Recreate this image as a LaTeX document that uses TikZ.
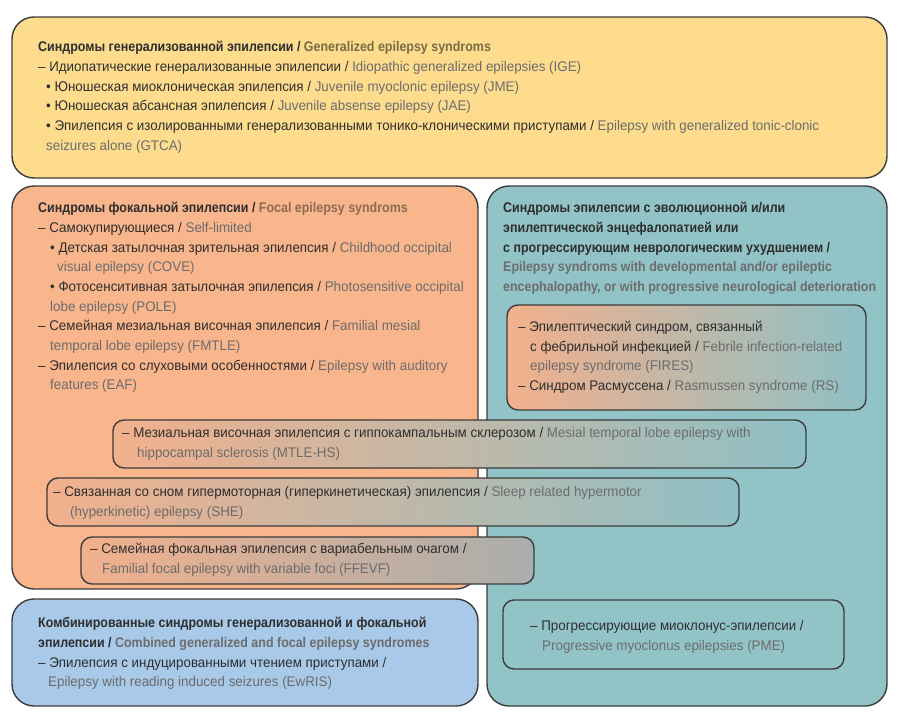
\documentclass[tikz,border=0pt]{standalone}
\usepackage{fontspec}
\setmainfont{Liberation Sans}[UprightFeatures={FakeStretch=0.955},BoldFeatures={FakeStretch=0.89}]
\definecolor{yfill}{HTML}{FDDC8E}
\definecolor{ofill}{HTML}{F9B68D}
\definecolor{tfill}{HTML}{92C4C7}
\definecolor{bfill}{HTML}{A9C9E9}
\definecolor{bord}{HTML}{3C3C3C}
\definecolor{rutext}{HTML}{2E2E2E}
\definecolor{enY}{HTML}{7B6B45}
\definecolor{enO}{HTML}{8E6B57}
\definecolor{enT}{HTML}{506B72}
\definecolor{enTb}{HTML}{6A7F82}
\definecolor{enB}{HTML}{5F6F80}
\definecolor{enG}{HTML}{6C6C6C}
\definecolor{enF}{HTML}{404040}
\definecolor{barO}{HTML}{F2B08C}
\definecolor{barT}{HTML}{8FC0C5}
\definecolor{barM}{HTML}{A9AEAC}
\colorlet{encol}{enG}
\newcommand\en[1]{{\color{encol}#1}}
\begin{document}
\begin{tikzpicture}[x=1pt,y=-1pt,
  bigbox/.style={draw=bord,line width=1.4pt,rounded corners=22pt},
  barbox/.style={draw=bord,line width=1.4pt,rounded corners=11pt},
  txt/.style={anchor=north west,inner sep=0pt,align=left,text=rutext,
    font=\fontsize{14}{19.7}\selectfont}]
\useasboundingbox (0,0) rectangle (900,723);
\fill[white] (0,0) rectangle (900,723);
% main boxes
\draw[bigbox,fill=yfill] (12,17) rectangle (887,178);
\draw[bigbox,fill=ofill] (12,186) rectangle (478,589);
\draw[bigbox,fill=tfill] (487,186) rectangle (887,706);
\draw[bigbox,fill=bfill] (12,599) rectangle (478,706);
% inner boxes
\draw[barbox,left color=barO,right color=barT] (507,305) rectangle (866,410);
\draw[barbox,left color=barO,right color=barT] (113,420) rectangle (806,468);
\draw[barbox,left color=barO,right color=barT] (47,478) rectangle (739,526);
\draw[barbox,left color=barO,right color=barM] (81,537) rectangle (534,584);
\draw[barbox,fill=tfill] (503,600) rectangle (844,669);
% texts
\node[txt] (gen) at (38,41) {\colorlet{encol}{enY}%
\textbf{Синдромы генерализованной эпилепсии / \en{Generalized epilepsy syndroms}}\\
– Идиопатические генерализованные эпилепсии / \en{Idiopathic generalized epilepsies (IGE)}\\
\hspace*{8pt}• Юношеская миоклоническая эпилепсия / \en{Juvenile myoclonic epilepsy (JME)}\\
\hspace*{8pt}• Юношеская абсансная эпилепсия / \en{Juvenile absense epilepsy (JAE)}\\
\hspace*{8pt}• Эпилепсия с изолированными генерализованными тонико-клоническими приступами / \en{Epilepsy with generalized tonic-clonic}\\
\hspace*{8pt}\en{seizures alone (GTCA)}};
\node[txt] (foc) at (38,202) {\colorlet{encol}{enO}%
\textbf{Синдромы фокальной эпилепсии / \en{Focal epilepsy syndroms}}\\
– Самокупирующиеся / \en{Self-limited}\\
\hspace*{12pt}• Детская затылочная зрительная эпилепсия / \en{Childhood occipital}\\
\hspace*{19pt}\en{visual epilepsy (COVE)}\\
\hspace*{12pt}• Фотосенситивная затылочная эпилепсия / \en{Photosensitive occipital}\\
\hspace*{12pt}\en{lobe epilepsy (POLE)}\\
– Семейная мезиальная височная эпилепсия / \en{Familial mesial}\\
\hspace*{12pt}\en{temporal lobe epilepsy (FMTLE)}\\
– Эпилепсия со слуховыми особенностями / \en{Epilepsy with auditory}\\
\hspace*{12pt}\en{features (EAF)}};
\node[txt] (dee) at (503,202) {\colorlet{encol}{enT}%
\textbf{Синдромы эпилепсии с эволюционной и/или}\\
\textbf{эпилептической энцефалопатией или}\\
\textbf{с прогрессирующим неврологическим ухудшением /}\\
\textbf{\en{Epilepsy syndroms with developmental and/or epileptic}}\\
\textbf{\en{encephalopathy, or with progressive neurological deterioration}}};
\node[txt] (fires) at (518,321) {\colorlet{encol}{enF}%
– Эпилептический синдром, связанный\\
\hspace*{12pt}с фебрильной инфекцией / \en{Febrile infection-related}\\
\hspace*{12pt}\en{epilepsy syndrome (FIRES)}\\
– Синдром Расмуссена / \en{Rasmussen syndrome (RS)}};
\node[txt] (mtle) at (122,427) {%
– Мезиальная височная эпилепсия с гиппокампальным склерозом / \en{Mesial temporal lobe epilepsy with}\\
\hspace*{15pt}\en{hippocampal sclerosis (MTLE-HS)}};
\node[txt] (she) at (53,486) {%
– Связанная со сном гипермоторная (гиперкинетическая) эпилепсия / \en{Sleep related hypermotor}\\
\hspace*{17pt}\en{(hyperkinetic) epilepsy (SHE)}};
\node[txt] (ffevf) at (90,543) {%
– Семейная фокальная эпилепсия с вариабельным очагом /\\
\hspace*{12pt}\en{Familial focal epilepsy with variable foci (FFEVF)}};
\node[txt] (comb) at (38,617) {\colorlet{encol}{enB}%
\textbf{Комбинированные синдромы генерализованной и фокальной}\\
\textbf{эпилепсии / \en{Combined generalized and focal epilepsy syndromes}}\\
– Эпилепсия с индуцированными чтением приступами /\\
\hspace*{10pt}\en{Epilepsy with reading induced seizures (EwRIS)}};
\node[txt] (pme) at (530,620) {\colorlet{encol}{enTb}%
– Прогрессирующие миоклонус-эпилепсии /\\
\hspace*{12pt}\en{Progressive myoclonus epilepsies (PME)}};
\end{tikzpicture}
\end{document}
